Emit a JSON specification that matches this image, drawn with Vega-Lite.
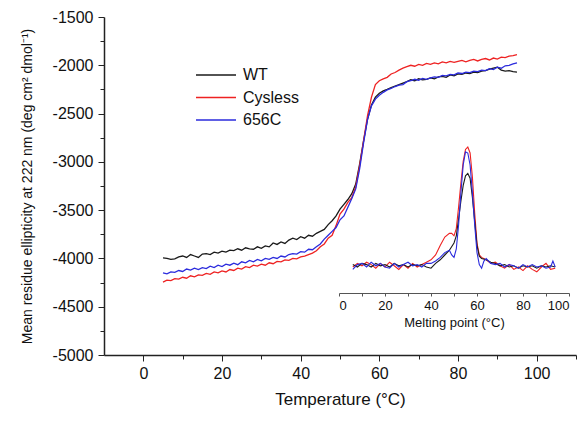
{
  "$schema": "https://vega.github.io/schema/vega-lite/v6.json",
  "width": 472,
  "height": 338,
  "autosize": {"type": "none"},
  "padding": {"left": 104, "top": 17, "right": 6, "bottom": 66},
  "background": "white",
  "config": {
    "font": "Liberation Sans",
    "view": {"stroke": null},
    "axis": {"grid": false, "domainColor": "#222", "tickColor": "#222", "labelColor": "#111", "titleColor": "#111", "titleFontWeight": "normal"}
  },
  "datasets": {
    "main": [
      {"T":5,"v":-3995,"s":"WT"},{"T":6,"v":-4000,"s":"WT"},{"T":7,"v":-4010,"s":"WT"},{"T":8,"v":-4005,"s":"WT"},{"T":9,"v":-3985,"s":"WT"},{"T":10,"v":-3975,"s":"WT"},{"T":11,"v":-3990,"s":"WT"},{"T":12,"v":-3960,"s":"WT"},{"T":13,"v":-3975,"s":"WT"},{"T":14,"v":-3990,"s":"WT"},{"T":15,"v":-3955,"s":"WT"},{"T":16,"v":-3950,"s":"WT"},{"T":17,"v":-3960,"s":"WT"},{"T":18,"v":-3935,"s":"WT"},{"T":19,"v":-3945,"s":"WT"},{"T":20,"v":-3925,"s":"WT"},{"T":21,"v":-3935,"s":"WT"},{"T":22,"v":-3915,"s":"WT"},{"T":23,"v":-3920,"s":"WT"},{"T":24,"v":-3900,"s":"WT"},{"T":25,"v":-3915,"s":"WT"},{"T":26,"v":-3890,"s":"WT"},{"T":27,"v":-3900,"s":"WT"},{"T":28,"v":-3905,"s":"WT"},{"T":29,"v":-3880,"s":"WT"},{"T":30,"v":-3895,"s":"WT"},{"T":31,"v":-3870,"s":"WT"},{"T":32,"v":-3880,"s":"WT"},{"T":33,"v":-3840,"s":"WT"},{"T":34,"v":-3855,"s":"WT"},{"T":35,"v":-3830,"s":"WT"},{"T":36,"v":-3845,"s":"WT"},{"T":37,"v":-3810,"s":"WT"},{"T":38,"v":-3790,"s":"WT"},{"T":39,"v":-3805,"s":"WT"},{"T":40,"v":-3775,"s":"WT"},{"T":41,"v":-3790,"s":"WT"},{"T":42,"v":-3760,"s":"WT"},{"T":43,"v":-3770,"s":"WT"},{"T":44,"v":-3740,"s":"WT"},{"T":45,"v":-3720,"s":"WT"},{"T":46,"v":-3700,"s":"WT"},{"T":47,"v":-3650,"s":"WT"},{"T":48,"v":-3610,"s":"WT"},{"T":49,"v":-3560,"s":"WT"},{"T":50,"v":-3490,"s":"WT"},{"T":51,"v":-3440,"s":"WT"},{"T":52,"v":-3390,"s":"WT"},{"T":53,"v":-3330,"s":"WT"},{"T":54,"v":-3230,"s":"WT"},{"T":55,"v":-3020,"s":"WT"},{"T":56,"v":-2780,"s":"WT"},{"T":57,"v":-2560,"s":"WT"},{"T":58,"v":-2410,"s":"WT"},{"T":59,"v":-2330,"s":"WT"},{"T":60,"v":-2290,"s":"WT"},{"T":61,"v":-2265,"s":"WT"},{"T":62,"v":-2250,"s":"WT"},{"T":63,"v":-2230,"s":"WT"},{"T":64,"v":-2215,"s":"WT"},{"T":65,"v":-2200,"s":"WT"},{"T":66,"v":-2185,"s":"WT"},{"T":67,"v":-2170,"s":"WT"},{"T":68,"v":-2150,"s":"WT"},{"T":69,"v":-2160,"s":"WT"},{"T":70,"v":-2140,"s":"WT"},{"T":71,"v":-2150,"s":"WT"},{"T":72,"v":-2145,"s":"WT"},{"T":73,"v":-2130,"s":"WT"},{"T":74,"v":-2140,"s":"WT"},{"T":75,"v":-2120,"s":"WT"},{"T":76,"v":-2115,"s":"WT"},{"T":77,"v":-2125,"s":"WT"},{"T":78,"v":-2100,"s":"WT"},{"T":79,"v":-2110,"s":"WT"},{"T":80,"v":-2090,"s":"WT"},{"T":81,"v":-2095,"s":"WT"},{"T":82,"v":-2080,"s":"WT"},{"T":83,"v":-2085,"s":"WT"},{"T":84,"v":-2070,"s":"WT"},{"T":85,"v":-2075,"s":"WT"},{"T":86,"v":-2060,"s":"WT"},{"T":87,"v":-2055,"s":"WT"},{"T":88,"v":-2040,"s":"WT"},{"T":89,"v":-2030,"s":"WT"},{"T":90,"v":-2020,"s":"WT"},{"T":91,"v":-2050,"s":"WT"},{"T":92,"v":-2060,"s":"WT"},{"T":93,"v":-2055,"s":"WT"},{"T":94,"v":-2065,"s":"WT"},{"T":95,"v":-2070,"s":"WT"},
      {"T":5,"v":-4245,"s":"Cysless"},{"T":6,"v":-4225,"s":"Cysless"},{"T":7,"v":-4230,"s":"Cysless"},{"T":8,"v":-4210,"s":"Cysless"},{"T":9,"v":-4215,"s":"Cysless"},{"T":10,"v":-4195,"s":"Cysless"},{"T":11,"v":-4205,"s":"Cysless"},{"T":12,"v":-4180,"s":"Cysless"},{"T":13,"v":-4190,"s":"Cysless"},{"T":14,"v":-4170,"s":"Cysless"},{"T":15,"v":-4175,"s":"Cysless"},{"T":16,"v":-4155,"s":"Cysless"},{"T":17,"v":-4165,"s":"Cysless"},{"T":18,"v":-4140,"s":"Cysless"},{"T":19,"v":-4150,"s":"Cysless"},{"T":20,"v":-4130,"s":"Cysless"},{"T":21,"v":-4140,"s":"Cysless"},{"T":22,"v":-4115,"s":"Cysless"},{"T":23,"v":-4125,"s":"Cysless"},{"T":24,"v":-4100,"s":"Cysless"},{"T":25,"v":-4110,"s":"Cysless"},{"T":26,"v":-4085,"s":"Cysless"},{"T":27,"v":-4095,"s":"Cysless"},{"T":28,"v":-4070,"s":"Cysless"},{"T":29,"v":-4080,"s":"Cysless"},{"T":30,"v":-4060,"s":"Cysless"},{"T":31,"v":-4070,"s":"Cysless"},{"T":32,"v":-4045,"s":"Cysless"},{"T":33,"v":-4055,"s":"Cysless"},{"T":34,"v":-4030,"s":"Cysless"},{"T":35,"v":-4035,"s":"Cysless"},{"T":36,"v":-4015,"s":"Cysless"},{"T":37,"v":-4020,"s":"Cysless"},{"T":38,"v":-4000,"s":"Cysless"},{"T":39,"v":-4005,"s":"Cysless"},{"T":40,"v":-3985,"s":"Cysless"},{"T":41,"v":-3975,"s":"Cysless"},{"T":42,"v":-3960,"s":"Cysless"},{"T":43,"v":-3945,"s":"Cysless"},{"T":44,"v":-3920,"s":"Cysless"},{"T":45,"v":-3880,"s":"Cysless"},{"T":46,"v":-3850,"s":"Cysless"},{"T":47,"v":-3790,"s":"Cysless"},{"T":48,"v":-3760,"s":"Cysless"},{"T":49,"v":-3660,"s":"Cysless"},{"T":50,"v":-3540,"s":"Cysless"},{"T":51,"v":-3490,"s":"Cysless"},{"T":52,"v":-3420,"s":"Cysless"},{"T":53,"v":-3370,"s":"Cysless"},{"T":54,"v":-3260,"s":"Cysless"},{"T":55,"v":-3040,"s":"Cysless"},{"T":56,"v":-2780,"s":"Cysless"},{"T":57,"v":-2520,"s":"Cysless"},{"T":58,"v":-2330,"s":"Cysless"},{"T":59,"v":-2200,"s":"Cysless"},{"T":60,"v":-2160,"s":"Cysless"},{"T":61,"v":-2140,"s":"Cysless"},{"T":62,"v":-2125,"s":"Cysless"},{"T":63,"v":-2090,"s":"Cysless"},{"T":64,"v":-2075,"s":"Cysless"},{"T":65,"v":-2050,"s":"Cysless"},{"T":66,"v":-2030,"s":"Cysless"},{"T":67,"v":-2015,"s":"Cysless"},{"T":68,"v":-2000,"s":"Cysless"},{"T":69,"v":-2010,"s":"Cysless"},{"T":70,"v":-1990,"s":"Cysless"},{"T":71,"v":-2000,"s":"Cysless"},{"T":72,"v":-1980,"s":"Cysless"},{"T":73,"v":-1990,"s":"Cysless"},{"T":74,"v":-1975,"s":"Cysless"},{"T":75,"v":-1985,"s":"Cysless"},{"T":76,"v":-1965,"s":"Cysless"},{"T":77,"v":-1975,"s":"Cysless"},{"T":78,"v":-1960,"s":"Cysless"},{"T":79,"v":-1970,"s":"Cysless"},{"T":80,"v":-1960,"s":"Cysless"},{"T":81,"v":-1950,"s":"Cysless"},{"T":82,"v":-1965,"s":"Cysless"},{"T":83,"v":-1950,"s":"Cysless"},{"T":84,"v":-1940,"s":"Cysless"},{"T":85,"v":-1955,"s":"Cysless"},{"T":86,"v":-1940,"s":"Cysless"},{"T":87,"v":-1930,"s":"Cysless"},{"T":88,"v":-1945,"s":"Cysless"},{"T":89,"v":-1925,"s":"Cysless"},{"T":90,"v":-1935,"s":"Cysless"},{"T":91,"v":-1915,"s":"Cysless"},{"T":92,"v":-1920,"s":"Cysless"},{"T":93,"v":-1905,"s":"Cysless"},{"T":94,"v":-1900,"s":"Cysless"},{"T":95,"v":-1890,"s":"Cysless"},
      {"T":5,"v":-4150,"s":"656C"},{"T":6,"v":-4160,"s":"656C"},{"T":7,"v":-4140,"s":"656C"},{"T":8,"v":-4145,"s":"656C"},{"T":9,"v":-4125,"s":"656C"},{"T":10,"v":-4135,"s":"656C"},{"T":11,"v":-4110,"s":"656C"},{"T":12,"v":-4120,"s":"656C"},{"T":13,"v":-4100,"s":"656C"},{"T":14,"v":-4115,"s":"656C"},{"T":15,"v":-4095,"s":"656C"},{"T":16,"v":-4105,"s":"656C"},{"T":17,"v":-4080,"s":"656C"},{"T":18,"v":-4095,"s":"656C"},{"T":19,"v":-4070,"s":"656C"},{"T":20,"v":-4085,"s":"656C"},{"T":21,"v":-4060,"s":"656C"},{"T":22,"v":-4070,"s":"656C"},{"T":23,"v":-4050,"s":"656C"},{"T":24,"v":-4065,"s":"656C"},{"T":25,"v":-4035,"s":"656C"},{"T":26,"v":-4045,"s":"656C"},{"T":27,"v":-4020,"s":"656C"},{"T":28,"v":-4035,"s":"656C"},{"T":29,"v":-4010,"s":"656C"},{"T":30,"v":-4025,"s":"656C"},{"T":31,"v":-4000,"s":"656C"},{"T":32,"v":-4010,"s":"656C"},{"T":33,"v":-3990,"s":"656C"},{"T":34,"v":-4000,"s":"656C"},{"T":35,"v":-3975,"s":"656C"},{"T":36,"v":-3985,"s":"656C"},{"T":37,"v":-3960,"s":"656C"},{"T":38,"v":-3950,"s":"656C"},{"T":39,"v":-3955,"s":"656C"},{"T":40,"v":-3930,"s":"656C"},{"T":41,"v":-3935,"s":"656C"},{"T":42,"v":-3905,"s":"656C"},{"T":43,"v":-3910,"s":"656C"},{"T":44,"v":-3880,"s":"656C"},{"T":45,"v":-3850,"s":"656C"},{"T":46,"v":-3800,"s":"656C"},{"T":47,"v":-3760,"s":"656C"},{"T":48,"v":-3720,"s":"656C"},{"T":49,"v":-3680,"s":"656C"},{"T":50,"v":-3600,"s":"656C"},{"T":51,"v":-3560,"s":"656C"},{"T":52,"v":-3470,"s":"656C"},{"T":53,"v":-3380,"s":"656C"},{"T":54,"v":-3280,"s":"656C"},{"T":55,"v":-3070,"s":"656C"},{"T":56,"v":-2800,"s":"656C"},{"T":57,"v":-2560,"s":"656C"},{"T":58,"v":-2420,"s":"656C"},{"T":59,"v":-2350,"s":"656C"},{"T":60,"v":-2310,"s":"656C"},{"T":61,"v":-2280,"s":"656C"},{"T":62,"v":-2255,"s":"656C"},{"T":63,"v":-2240,"s":"656C"},{"T":64,"v":-2220,"s":"656C"},{"T":65,"v":-2205,"s":"656C"},{"T":66,"v":-2200,"s":"656C"},{"T":67,"v":-2170,"s":"656C"},{"T":68,"v":-2160,"s":"656C"},{"T":69,"v":-2145,"s":"656C"},{"T":70,"v":-2155,"s":"656C"},{"T":71,"v":-2135,"s":"656C"},{"T":72,"v":-2145,"s":"656C"},{"T":73,"v":-2130,"s":"656C"},{"T":74,"v":-2120,"s":"656C"},{"T":75,"v":-2125,"s":"656C"},{"T":76,"v":-2105,"s":"656C"},{"T":77,"v":-2110,"s":"656C"},{"T":78,"v":-2095,"s":"656C"},{"T":79,"v":-2100,"s":"656C"},{"T":80,"v":-2080,"s":"656C"},{"T":81,"v":-2085,"s":"656C"},{"T":82,"v":-2070,"s":"656C"},{"T":83,"v":-2075,"s":"656C"},{"T":84,"v":-2060,"s":"656C"},{"T":85,"v":-2065,"s":"656C"},{"T":86,"v":-2050,"s":"656C"},{"T":87,"v":-2055,"s":"656C"},{"T":88,"v":-2035,"s":"656C"},{"T":89,"v":-2045,"s":"656C"},{"T":90,"v":-2020,"s":"656C"},{"T":91,"v":-2030,"s":"656C"},{"T":92,"v":-2005,"s":"656C"},{"T":93,"v":-2000,"s":"656C"},{"T":94,"v":-1985,"s":"656C"},{"T":95,"v":-1975,"s":"656C"}
    ],
    "inset": [
      {"m":6,"d":0.00,"s":"Cysless"},{"m":8,"d":0.03,"s":"Cysless"},{"m":10,"d":0.01,"s":"Cysless"},{"m":12,"d":0.04,"s":"Cysless"},{"m":14,"d":0.02,"s":"Cysless"},{"m":16,"d":-0.01,"s":"Cysless"},{"m":18,"d":0.03,"s":"Cysless"},{"m":20,"d":0.00,"s":"Cysless"},{"m":22,"d":0.04,"s":"Cysless"},{"m":24,"d":0.01,"s":"Cysless"},{"m":26,"d":-0.02,"s":"Cysless"},{"m":28,"d":0.02,"s":"Cysless"},{"m":30,"d":-0.01,"s":"Cysless"},{"m":32,"d":0.03,"s":"Cysless"},{"m":34,"d":0.00,"s":"Cysless"},{"m":36,"d":0.02,"s":"Cysless"},{"m":38,"d":0.04,"s":"Cysless"},{"m":40,"d":0.06,"s":"Cysless"},{"m":42,"d":0.10,"s":"Cysless"},{"m":44,"d":0.18,"s":"Cysless"},{"m":46,"d":0.25,"s":"Cysless"},{"m":48,"d":0.28,"s":"Cysless"},{"m":49,"d":0.28,"s":"Cysless"},{"m":50,"d":0.26,"s":"Cysless"},{"m":51,"d":0.32,"s":"Cysless"},{"m":52,"d":0.50,"s":"Cysless"},{"m":53,"d":0.70,"s":"Cysless"},{"m":54,"d":0.88,"s":"Cysless"},{"m":55,"d":0.98,"s":"Cysless"},{"m":56,"d":1.00,"s":"Cysless"},{"m":57,"d":0.95,"s":"Cysless"},{"m":58,"d":0.75,"s":"Cysless"},{"m":59,"d":0.45,"s":"Cysless"},{"m":60,"d":0.20,"s":"Cysless"},{"m":61,"d":0.10,"s":"Cysless"},{"m":62,"d":0.08,"s":"Cysless"},{"m":64,"d":0.06,"s":"Cysless"},{"m":66,"d":0.03,"s":"Cysless"},{"m":68,"d":0.04,"s":"Cysless"},{"m":70,"d":0.01,"s":"Cysless"},{"m":72,"d":-0.01,"s":"Cysless"},{"m":74,"d":0.02,"s":"Cysless"},{"m":76,"d":-0.02,"s":"Cysless"},{"m":78,"d":0.00,"s":"Cysless"},{"m":80,"d":-0.03,"s":"Cysless"},{"m":82,"d":0.01,"s":"Cysless"},{"m":84,"d":-0.02,"s":"Cysless"},{"m":86,"d":-0.04,"s":"Cysless"},{"m":88,"d":0.00,"s":"Cysless"},{"m":90,"d":0.03,"s":"Cysless"},{"m":92,"d":-0.02,"s":"Cysless"},{"m":94,"d":-0.01,"s":"Cysless"},
      {"m":6,"d":0.02,"s":"WT"},{"m":8,"d":0.00,"s":"WT"},{"m":10,"d":0.03,"s":"WT"},{"m":12,"d":0.02,"s":"WT"},{"m":14,"d":0.00,"s":"WT"},{"m":16,"d":0.03,"s":"WT"},{"m":18,"d":0.01,"s":"WT"},{"m":20,"d":0.02,"s":"WT"},{"m":22,"d":0.00,"s":"WT"},{"m":24,"d":0.03,"s":"WT"},{"m":26,"d":0.01,"s":"WT"},{"m":28,"d":0.02,"s":"WT"},{"m":30,"d":0.00,"s":"WT"},{"m":32,"d":0.02,"s":"WT"},{"m":34,"d":0.01,"s":"WT"},{"m":36,"d":0.02,"s":"WT"},{"m":38,"d":0.00,"s":"WT"},{"m":40,"d":-0.01,"s":"WT"},{"m":42,"d":0.03,"s":"WT"},{"m":44,"d":0.06,"s":"WT"},{"m":46,"d":0.10,"s":"WT"},{"m":48,"d":0.14,"s":"WT"},{"m":50,"d":0.20,"s":"WT"},{"m":51,"d":0.26,"s":"WT"},{"m":52,"d":0.40,"s":"WT"},{"m":53,"d":0.55,"s":"WT"},{"m":54,"d":0.68,"s":"WT"},{"m":55,"d":0.76,"s":"WT"},{"m":56,"d":0.78,"s":"WT"},{"m":57,"d":0.74,"s":"WT"},{"m":58,"d":0.58,"s":"WT"},{"m":59,"d":0.38,"s":"WT"},{"m":60,"d":0.18,"s":"WT"},{"m":61,"d":0.09,"s":"WT"},{"m":62,"d":0.07,"s":"WT"},{"m":64,"d":0.06,"s":"WT"},{"m":66,"d":0.04,"s":"WT"},{"m":68,"d":0.03,"s":"WT"},{"m":70,"d":0.01,"s":"WT"},{"m":72,"d":0.02,"s":"WT"},{"m":74,"d":0.00,"s":"WT"},{"m":76,"d":0.01,"s":"WT"},{"m":78,"d":-0.01,"s":"WT"},{"m":80,"d":0.01,"s":"WT"},{"m":82,"d":0.00,"s":"WT"},{"m":84,"d":0.01,"s":"WT"},{"m":86,"d":-0.01,"s":"WT"},{"m":88,"d":0.01,"s":"WT"},{"m":90,"d":0.00,"s":"WT"},{"m":92,"d":0.01,"s":"WT"},{"m":94,"d":0.00,"s":"WT"},
      {"m":6,"d":-0.02,"s":"656C"},{"m":8,"d":0.02,"s":"656C"},{"m":10,"d":0.03,"s":"656C"},{"m":12,"d":0.00,"s":"656C"},{"m":14,"d":0.04,"s":"656C"},{"m":16,"d":0.01,"s":"656C"},{"m":18,"d":0.03,"s":"656C"},{"m":20,"d":0.00,"s":"656C"},{"m":22,"d":-0.01,"s":"656C"},{"m":24,"d":0.03,"s":"656C"},{"m":26,"d":0.00,"s":"656C"},{"m":28,"d":0.02,"s":"656C"},{"m":30,"d":0.04,"s":"656C"},{"m":32,"d":0.01,"s":"656C"},{"m":34,"d":0.02,"s":"656C"},{"m":36,"d":0.00,"s":"656C"},{"m":38,"d":0.03,"s":"656C"},{"m":40,"d":0.03,"s":"656C"},{"m":42,"d":0.05,"s":"656C"},{"m":44,"d":0.08,"s":"656C"},{"m":46,"d":0.12,"s":"656C"},{"m":48,"d":0.14,"s":"656C"},{"m":49,"d":0.10,"s":"656C"},{"m":50,"d":0.08,"s":"656C"},{"m":51,"d":0.15,"s":"656C"},{"m":52,"d":0.35,"s":"656C"},{"m":53,"d":0.62,"s":"656C"},{"m":54,"d":0.85,"s":"656C"},{"m":55,"d":0.96,"s":"656C"},{"m":56,"d":0.95,"s":"656C"},{"m":57,"d":0.85,"s":"656C"},{"m":58,"d":0.62,"s":"656C"},{"m":59,"d":0.35,"s":"656C"},{"m":60,"d":0.12,"s":"656C"},{"m":61,"d":0.02,"s":"656C"},{"m":62,"d":-0.01,"s":"656C"},{"m":63,"d":0.05,"s":"656C"},{"m":64,"d":0.07,"s":"656C"},{"m":66,"d":0.03,"s":"656C"},{"m":68,"d":0.02,"s":"656C"},{"m":70,"d":0.03,"s":"656C"},{"m":72,"d":0.00,"s":"656C"},{"m":74,"d":0.02,"s":"656C"},{"m":76,"d":0.01,"s":"656C"},{"m":78,"d":-0.01,"s":"656C"},{"m":80,"d":0.02,"s":"656C"},{"m":82,"d":0.00,"s":"656C"},{"m":84,"d":0.02,"s":"656C"},{"m":86,"d":0.00,"s":"656C"},{"m":88,"d":0.01,"s":"656C"},{"m":90,"d":-0.01,"s":"656C"},{"m":92,"d":0.00,"s":"656C"},{"m":93,"d":0.05,"s":"656C"},{"m":94,"d":0.00,"s":"656C"}
    ]
  },
  "layer": [
    {
      "data": {"name": "main"},
      "mark": {"type": "line", "strokeWidth": 1.3},
      "encoding": {
        "x": {
          "field": "T", "type": "quantitative",
          "scale": {"domain": [-10, 110], "nice": false, "zero": false},
          "axis": {
            "values": [0,10,20,30,40,50,60,70,80,90,100,110],
            "labelExpr": "datum.value % 20 === 0 ? '' + datum.value : ''",
            "tickSize": {"condition": {"test": "datum.value % 20 === 0", "value": 6}, "value": 4},
            "labelFontSize": 16, "labelPadding": 4,
            "title": "Temperature (°C)", "titleFontSize": 17, "titlePadding": 10,
            "domainWidth": 1.5
          }
        },
        "y": {
          "field": "v", "type": "quantitative",
          "scale": {"domain": [-5000, -1500], "nice": false, "zero": false},
          "axis": {
            "values": [-5000,-4750,-4500,-4250,-4000,-3750,-3500,-3250,-3000,-2750,-2500,-2250,-2000,-1750,-1500],
            "labelExpr": "datum.value % 500 === 0 ? '' + datum.value : ''",
            "tickSize": {"condition": {"test": "datum.value % 500 === 0", "value": 6}, "value": 4},
            "labelFontSize": 16, "labelPadding": 5,
            "title": "Mean residue ellipticity at 222 nm (deg cm² dmol⁻¹)", "titleFontSize": 14, "titlePadding": 18,
            "domainWidth": 1.5
          }
        },
        "color": {
          "field": "s", "type": "nominal",
          "scale": {"domain": ["WT", "Cysless", "656C"], "range": ["#1a1a1a", "#ee2222", "#2b2bdd"]},
          "legend": {
            "orient": "none", "legendX": 91, "legendY": 50, "title": null,
            "symbolType": "stroke", "symbolSize": 1600, "symbolStrokeWidth": 1.5,
            "clipHeight": 16,
            "labelFontSize": 16, "labelOffset": 6, "rowPadding": 6.5, "labelColor": "#111"
          }
        }
      }
    },
    {
      "data": {"name": "inset"},
      "mark": {"type": "line", "strokeWidth": 1.1},
      "encoding": {
        "x": {
          "field": "m", "type": "quantitative",
          "scale": {"domain": [0, 100], "nice": false, "zero": false, "range": [235, 465]},
          "axis": {
            "orient": "bottom", "offset": -62,
            "values": [0,10,20,30,40,50,60,70,80,90,100],
            "labelExpr": "datum.value % 20 === 0 ? datum.label : ''",
            "tickSize": 3,
            "labelFontSize": 13, "labelPadding": 3,
            "title": "Melting point (°C)", "titleFontSize": 13, "titlePadding": 4,
            "domainColor": "#555", "tickColor": "#555"
          }
        },
        "y": {
          "field": "d", "type": "quantitative",
          "scale": {"domain": [0, 1], "nice": false, "zero": false, "range": [250, 130]},
          "axis": null
        },
        "color": {"field": "s", "type": "nominal"}
      }
    }
  ],
  "resolve": {"scale": {"x": "independent", "y": "independent"}}
}
